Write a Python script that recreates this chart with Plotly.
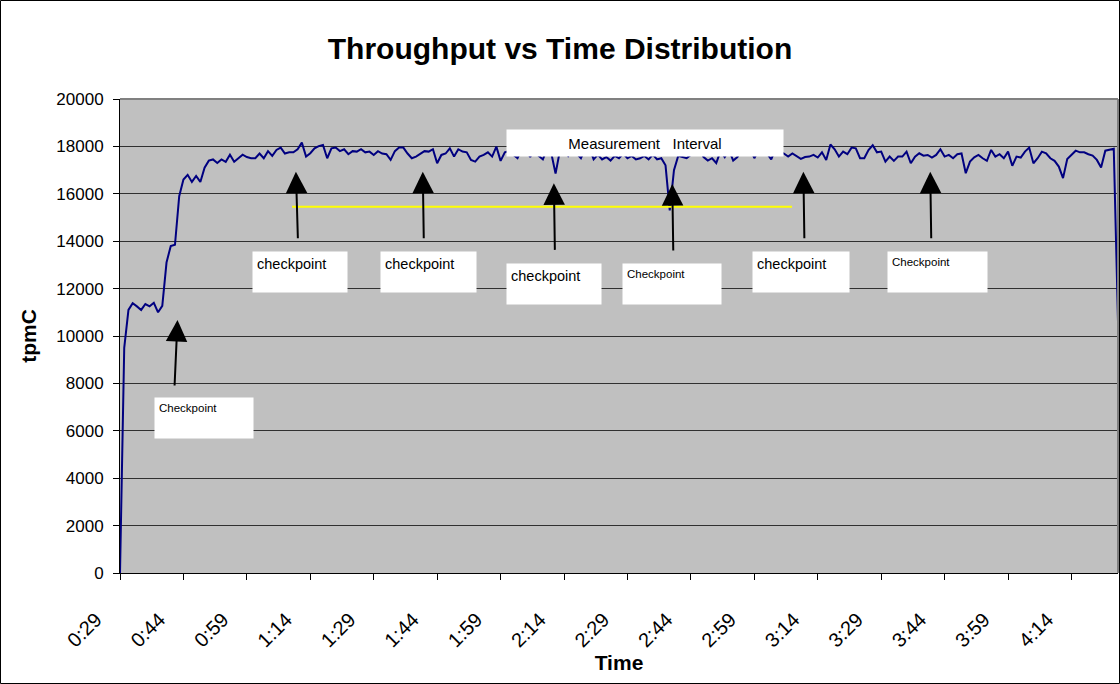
import plotly.graph_objects as go

# ---------------- data ----------------
START_MINUTE = 29  # first sample at 0:29, one sample per minute
TPMC = [
    0, 9500, 11100, 11380, 11250, 11100, 11350, 11250, 11400, 11000,
    11270, 13100, 13800, 13850, 15900, 16600, 16800, 16500, 16750, 16500,
    17100, 17400, 17450, 17300, 17450, 17350, 17650, 17350, 17500, 17650,
    17550, 17500, 17500, 17700, 17500, 17800, 17600, 17850, 17950, 17700,
    17750, 17750, 17880, 18160, 17570, 17710, 17920, 18010, 18060, 17500,
    17920, 17950, 17800, 17880, 17670, 17800, 17780, 17880, 17750, 17780,
    17640, 17800, 17700, 17670, 17430, 17800, 17950, 17950, 17700, 17500,
    17570, 17670, 17800, 17780, 17880, 17290, 17640, 17700, 17920, 17570,
    17880, 17780, 17750, 17430, 17360, 17570, 17640, 17750, 17570, 17990,
    17390, 17750, 17800, 17650, 17500, 17900, 17850, 17550, 17900, 17600,
    17450, 17900, 17700, 16850, 17800, 17950, 17600, 17850, 17700, 17500,
    17900, 17950, 17450, 17650, 17450, 17550, 17400, 17600, 17500, 17700,
    17500, 17600, 17450, 17500, 17600, 17450, 17650, 17450, 17500, 17200,
    15300, 17000, 17600, 17550, 17500, 17650, 17800, 17900, 17550, 17400,
    17500, 17300, 17800, 17550, 17850, 17400, 17550, 17900, 17800, 17950,
    17500, 17850, 17950, 17700, 17450, 17900, 17780, 17700, 17570, 17700,
    17570, 17470, 17550, 17570, 17640, 17530, 17750, 17430, 18080, 17880,
    17570, 17780, 17670, 17950, 17920, 17500, 17500, 17850, 18050, 17750,
    17780, 17360, 17570, 17390, 17570, 17570, 17780, 17290, 17570, 17710,
    17610, 17640, 17530, 17640, 17880, 17570, 17640, 17500, 17670, 17700,
    16870, 17360, 17540, 17640, 17500, 17390, 17850, 17570, 17670, 17500,
    17780, 17180, 17570, 17530, 17780, 17950, 17290, 17500, 17780, 17710,
    17500, 17390, 17150, 16660, 17470, 17640, 17820, 17750, 17750, 17670,
    17610, 17430, 17110, 17820, 17850, 17900, 10600,
]
TIMES = ["%d:%02d" % divmod(START_MINUTE + i, 60) for i in range(len(TPMC))]
TICK_LABELS = ["0:29", "0:44", "0:59", "1:14", "1:29", "1:44", "1:59", "2:14",
               "2:29", "2:44", "2:59", "3:14", "3:29", "3:44", "3:59", "4:14"]
Y_TICKS = [0, 2000, 4000, 6000, 8000, 10000, 12000, 14000, 16000, 18000, 20000]

# checkpoint markers: (time of arrow tip, tpmC of tip)
CHECKPOINTS = [("0:42", 10675), ("1:10", 16930), ("1:40", 16930), ("2:11", 16440),
               ("2:39", 16410), ("3:10", 16930), ("3:40", 16930)]
CHECKPOINT_LABELS = ["Checkpoint", "checkpoint", "checkpoint", "checkpoint",
                     "Checkpoint", "checkpoint", "Checkpoint"]
MEASUREMENT_LEVEL = 15450
MEASUREMENT_START, MEASUREMENT_END = "1:09", "3:07"

FONT = "Liberation Sans, Arial, sans-serif"
x_idx = list(range(len(TPMC)))
tickvals = [TIMES.index(t) for t in TICK_LABELS]

fig = go.Figure()
fig.add_trace(go.Scatter(x=x_idx, y=TPMC, mode="lines",
                         line=dict(color="#000080", width=2),
                         hoverinfo="skip", showlegend=False))

# plot-area geometry (pixels)
W, H = 1120, 684
L, R, T, B = 120, 1118, 99, 573

# yellow measurement-interval line
fig.add_shape(type="line", xref="x", yref="y",
              x0=TIMES.index(MEASUREMENT_START) + 0.7, x1=TIMES.index(MEASUREMENT_END) + 0.9,
              y0=MEASUREMENT_LEVEL, y1=MEASUREMENT_LEVEL,
              line=dict(color="#FFFF00", width=2))

# top / right plot border (gray)
fig.add_shape(type="line", xref="paper", yref="paper", x0=0, x1=1, y0=1, y1=1,
              line=dict(color="#808080", width=2))
fig.add_shape(type="line", xref="paper", yref="paper", x0=1, x1=1, y0=0, y1=1,
              line=dict(color="#808080", width=2))
# outer chart border
fig.add_shape(type="rect", xref="paper", yref="paper",
              x0=(0.5 - L) / (R - L), x1=(W - 0.5 - L) / (R - L),
              y0=(B - (H - 0.5)) / (B - T), y1=(B - 0.5) / (B - T),
              line=dict(color="black", width=1), fillcolor="rgba(0,0,0,0)")

annotations = []
# arrows
tail_offsets = [(-3, 67), (2, 68), (1, 68), (1, 68), (1, 68), (1, 68), (1, 68)]
for (t, v), (ax, ay) in zip(CHECKPOINTS, tail_offsets):
    annotations.append(dict(x=TIMES.index(t) + 0.6, y=v, xref="x", yref="y", text="",
                            showarrow=True, arrowhead=2, arrowsize=2.15, arrowwidth=2,
                            arrowcolor="black", ax=ax, ay=ay, standoff=0))

# label boxes: (left idx, top value, width px, height px)
boxes = [(8.0, 7426, 98, 40), (31.3, 13586, 94, 40), (61.5, 13586, 95, 40),
         (91.3, 13093, 94, 40), (118.6, 13093, 98, 40), (149.4, 13586, 96, 40),
         (181.3, 13586, 99, 40)]
for (bx, by, bw, bh), lab in zip(boxes, CHECKPOINT_LABELS):
    small = lab == "Checkpoint"
    annotations.append(dict(x=bx, y=by, xref="x", yref="y", xanchor="left", yanchor="top",
                            text=lab, showarrow=False, bgcolor="white", borderpad=4,
                            width=bw - 8, height=bh - 8, align="left", valign="top",
                            font=dict(family=FONT, size=11.5 if small else 14.5, color="black")))
annotations.append(dict(x=91.3, y=18722, xref="x", yref="y", xanchor="left", yanchor="top",
                        text="Measurement\u00a0\u00a0 Interval", showarrow=False,
                        bgcolor="white", borderpad=0, width=276, height=26,
                        align="center", valign="middle",
                        font=dict(family=FONT, size=15, color="black")))

fig.update_layout(
    width=W, height=H,
    margin=dict(l=L, r=W - R, t=T, b=H - B, pad=0),
    paper_bgcolor="white", plot_bgcolor="#C0C0C0",
    title=dict(text="<b>Throughput vs Time Distribution</b>", x=0.5, xref="container",
               y=1 - 48 / H, yanchor="middle",
               font=dict(family=FONT, size=30, color="black")),
    font=dict(family=FONT, color="black"),
    annotations=annotations,
    showlegend=False,
)
fig.update_xaxes(range=[0, len(TPMC) - 1], tickmode="array", tickvals=tickvals,
                 ticktext=TICK_LABELS, tickangle=-45, showgrid=False, zeroline=False,
                 showline=True, linecolor="black", linewidth=1,
                 ticks="outside", ticklen=6, tickcolor="black",
                 ticklabelstandoff=20, ticklabelshift=-24,
                 tickfont=dict(family=FONT, size=20, color="black"),
                 title=dict(text="<b>Time</b>", font=dict(family=FONT, size=21, color="black"),
                            standoff=4))
fig.update_yaxes(range=[0, 20000], tickmode="array", tickvals=Y_TICKS, tickformat="d",
                 showgrid=True, gridcolor="#303030", gridwidth=1, zeroline=False,
                 showline=True, linecolor="black", linewidth=1,
                 ticks="outside", ticklen=6, tickcolor="black",
                 ticklabelstandoff=6,
                 tickfont=dict(family=FONT, size=17, color="black"),
                 title=dict(text="<b>tpmC</b>", font=dict(family=FONT, size=21, color="black"),
                            standoff=13))

fig.write_html("out.html", config={"displayModeBar": False},
               post_script="document.body.style.margin='0';")
